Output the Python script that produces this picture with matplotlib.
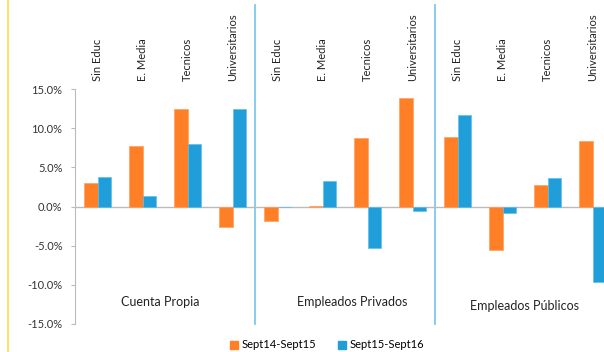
import matplotlib
matplotlib.use("Agg")
import matplotlib.pyplot as plt
from matplotlib.lines import Line2D
from matplotlib.patches import Patch
import numpy as np

plt.rcParams['font.family'] = ['Lato', 'DejaVu Sans']

categories = ["Sin Educ", "E. Media", "Tecnicos", "Universitarios"] * 3
groups = ["Cuenta Propia", "Empleados Privados", "Empleados Públicos"]
series_names = ["Sept14-Sept15", "Sept15-Sept16"]
s1 = [3.0, 7.7, 12.5, -2.6, -1.9, 0.1, 8.8, 13.8, 8.9, -5.6, 2.8, 8.3]
s2 = [3.8, 1.3, 8.0, 12.4, 0.0, 3.2, -5.3, -0.6, 11.7, -0.8, 3.6, -9.7]
yticks = [-15, -10, -5, 0, 5, 10, 15]

orange = "#FF7F27"
blue = "#1F9ED9"

W, H = 604, 352
fig = plt.figure(figsize=(W/100, H/100), dpi=100)
ax = fig.add_axes([75/W, 28/H, 540/W, 235/H])
ax.patch.set_alpha(0)

x = np.arange(len(categories))
bw = 0.29
ax.bar(x - bw/2, s1, bw, color=orange, edgecolor="#FFA060", linewidth=0.5, zorder=3)
ax.bar(x + bw/2, s2, bw, color=blue, edgecolor="#5FBFE8", linewidth=0.5, zorder=3)

ax.set_xlim(-0.5, len(categories) - 0.5)
ax.set_ylim(-15, 15)
ax.set_yticks(yticks)
ax.set_yticklabels([f"{v:.1f}%" for v in yticks], fontsize=8, color="#333333")
ax.tick_params(axis='y', length=3, color="#BBBBBB", pad=6)
ax.set_xticks([])
for s in ["top", "right", "bottom"]:
    ax.spines[s].set_visible(False)
ax.spines["left"].set_color("#BBBBBB")
ax.axhline(0, color="#BBBBBB", linewidth=1, zorder=2)

# category labels above the plot
for xi, c in zip(x, categories):
    ax.text(xi, 15 + 8*30/235, c, rotation=90, ha="center", va="bottom",
            fontsize=8, color="#222222", clip_on=False)

# separators
for sx in [3.5, 7.5]:
    ax.plot([sx, sx], [-15, 15 + 84*30/235], color="#7EC8EC", linewidth=1.3,
            clip_on=False, zorder=1)

# group labels
group_pos = [(160, 302), (352, 302), (524, 306)]
for g, (px, py) in zip(groups, group_pos):
    fig.text(px/W, 1 - py/H, g, ha="center", va="center", fontsize=9, color="#222222")

# left yellow border
fig.add_artist(Line2D([8/W, 8/W], [0, 1], color="#FFE070", linewidth=1.5))

handles = [Patch(color=orange, label=series_names[0]), Patch(color=blue, label=series_names[1])]
fig.legend(handles=handles, loc="center", bbox_to_anchor=(327/W, 1 - 345/H), ncol=2,
           frameon=False, fontsize=8, handlelength=0.7, handleheight=0.7,
           handletextpad=0.3, columnspacing=2.0, borderpad=0.1)

fig.savefig("out.png", dpi=100)
